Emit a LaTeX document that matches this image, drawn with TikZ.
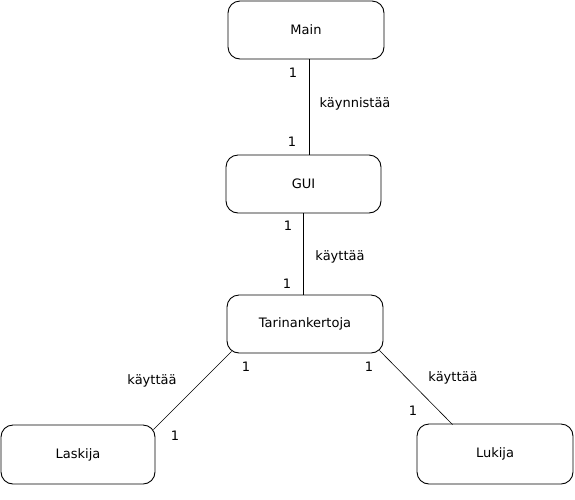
\documentclass[tikz,border=0pt]{standalone}
\usepackage{fontspec}
\setmainfont{DejaVu Sans}
\begin{document}
\begin{tikzpicture}[x=1pt,y=-1pt,
  box/.style={draw,line width=0.9pt,rounded corners=12pt,minimum width=156pt,minimum height=58pt,inner sep=0pt,font=\fontsize{13}{15}\selectfont},
  conn/.style={line width=0.6pt},
  lbl/.style={inner sep=0pt,font=\fontsize{13}{15}\selectfont}]
\useasboundingbox (0,0) rectangle (575,499);
\node[box] (main) at (306,30) {Main};
\node[box,minimum width=155pt] (gui) at (303.5,184) {GUI};
\node[box] (tar) at (305,324) {Tarinankertoja};
\node[box,minimum width=154pt,minimum height=59pt] (lask) at (78,454.5) {Laskija};
\node[box,minimum height=60pt] (luk) at (495,454) {Lukija};
\draw[conn] ([xshift=3pt]main.south) -- ([xshift=5.5pt]gui.north);
\draw[conn] ([xshift=-0.5pt]gui.south) -- ([xshift=-2pt]tar.north);
\draw[conn] ([xshift=5pt,yshift=2pt]tar.south west) -- ([xshift=-2pt,yshift=-5pt]lask.north east);
\draw[conn] ([xshift=-4pt,yshift=3pt]tar.south east) -- ([xshift=36pt,yshift=-1pt]luk.north west);
\node[lbl] (l1) at (293,73) {1};
\node[lbl] (l2) at (355,104) {käynnistää};
\node[lbl] (l3) at (292,142) {1};
\node[lbl] (l4) at (288,226) {1};
\node[lbl] (l5) at (340,257) {käyttää};
\node[lbl] (l6) at (287,284) {1};
\node[lbl] (l7) at (152,381) {käyttää};
\node[lbl] (l8) at (246,367) {1};
\node[lbl] (l9) at (175,436) {1};
\node[lbl] (l10) at (369,367) {1};
\node[lbl] (l11) at (453,378) {käyttää};
\node[lbl] (l12) at (413,411) {1};
\end{tikzpicture}
\end{document}
